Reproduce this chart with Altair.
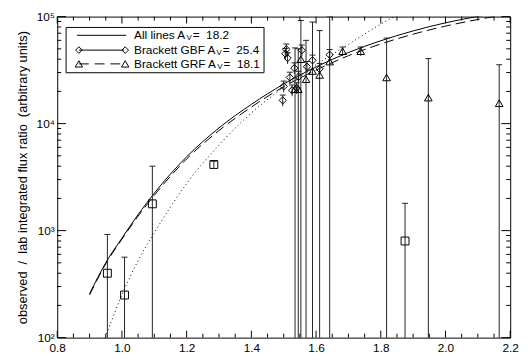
import altair as alt
import pandas as pd

# ---------------- data ----------------
# model curves
all_x = [0.90, 0.95, 1.00, 1.05, 1.10, 1.20, 1.30, 1.40, 1.50, 1.60, 1.70, 1.80, 1.90, 2.00, 2.10, 2.20]
all_y = [257, 501, 851, 1413, 2239, 4898, 9120, 15140, 23440, 33880, 46200, 59500, 73500, 87500, 100500, 113000]
grf_x = [0.90, 0.95, 1.00, 1.05, 1.10, 1.20, 1.30, 1.40, 1.50, 1.60, 1.70, 1.80, 1.90, 2.00, 2.10, 2.20]
grf_y = [251, 490, 832, 1365, 2138, 4677, 8610, 14290, 22130, 31620, 43150, 55500, 68500, 81500, 94000, 106000]
gbf_x = [0.948, 1.00, 1.05, 1.10, 1.20, 1.30, 1.40, 1.50, 1.60, 1.70, 1.80, 1.85, 1.90]
gbf_y = [100, 251, 525, 955, 2754, 6310, 12590, 21880, 35500, 55000, 85000, 103000, 122000]

# squares (other lines)
sq_x = [0.955, 1.008, 1.094, 1.284, 1.875]
sq_y = [400, 250, 1780, 4150, 800]
sq_lo = [10, 10, 10, 3850, 10]
sq_hi = [920, 565, 4000, 4450, 1800]

# triangles (Brackett GRF)
tri_x = [1.535, 1.545, 1.553, 1.569, 1.589, 1.611, 1.642, 1.682, 1.738, 1.818, 1.947, 2.166]
tri_y = [21000, 21000, 40000, 26000, 31000, 28500, 38000, 47500, 47500, 27000, 17500, 15500]
tri_lo = [10, 10, 10, 10, 10, 10, 10, 43000, 43000, 10, 10, 10]
tri_hi = [51000, 50000, 92000, 60000, 89000, 74000, 100000, 52000, 52000, 63000, 40500, 35500]

# diamonds (Brackett GBF)
dia_x = [1.497, 1.500, 1.505, 1.508, 1.512, 1.519, 1.526, 1.533, 1.540, 1.546, 1.556, 1.572, 1.589, 1.611, 1.642]
dia_y = [16500, 22300, 45000, 49500, 41000, 27000, 20500, 33000, 21500, 27500, 48500, 34000, 39000, 32500, 44000]

x_major = [0.8, 1.0, 1.2, 1.4, 1.6, 1.8, 2.0, 2.2]
x_minor = [round(0.8 + 0.05 * i, 2) for i in range(29) if i % 4 != 0]
y_major = [100, 1000, 10000, 100000]
y_minor = [m * d for d in (100, 1000, 10000) for m in range(2, 10)]

NB = "\u00a0"
legend_labels = [("All lines A", "V", "=" + NB + NB + "18.2"),
                 ("Brackett GBF A", "V", "=" + NB + NB + "25.4"),
                 ("Brackett GRF A", "V", "=" + NB + NB + "18.1")]
y_title = "observed" + NB + NB + "/" + NB + NB + "lab integrated flux ratio" + NB + NB + "(arbitrary units)"

# ---------------- layout ----------------
W, H = 460, 326
FONT = "Liberation Sans"
xs = alt.Scale(domain=[0.8, 2.2], nice=False, zero=False)
ys = alt.Scale(type="log", domain=[100, 100000], nice=False)

X_AXIS = alt.Axis(values=x_major, format=".1f", ticks=False, domain=False, grid=False,
                  labelFlush=False, labelOverlap=False,
                  labelFontSize=12, labelPadding=5, title=None, labelColor="black", labelFont=FONT)
Y_AXIS = alt.Axis(values=y_major, ticks=False, domain=False, grid=False,
                  labelFlush=False, labelOverlap=False,
                  labelExpr="datum.value == 100 ? '10²' : datum.value == 1000 ? '10³' : datum.value == 10000 ? '10⁴' : '10⁵'",
                  labelFontSize=12, labelPadding=3, labelColor="black", labelFont=FONT,
                  title=y_title, titleFont=FONT,
                  titleFontSize=13, titleFontWeight="normal", titlePadding=7, titleColor="black")

def X(f="x"):
    return alt.X(f"{f}:Q", scale=xs, axis=X_AXIS)

def Y(f="y"):
    return alt.Y(f"{f}:Q", scale=ys, axis=Y_AXIS)

layers = []

# curves
layers.append(
    alt.Chart(pd.DataFrame({"x": all_x, "y": all_y})).mark_line(
        color="black", strokeWidth=1, clip=True, interpolate="monotone").encode(x=X(), y=Y())
)
layers.append(
    alt.Chart(pd.DataFrame({"x": grf_x, "y": grf_y})).mark_line(
        color="black", strokeWidth=1, clip=True, interpolate="monotone", strokeDash=[10, 5]).encode(x=X(), y=Y())
)
layers.append(
    alt.Chart(pd.DataFrame({"x": gbf_x, "y": gbf_y})).mark_line(
        color="black", strokeWidth=1, clip=True, interpolate="monotone", strokeDash=[1, 3]).encode(x=X(), y=Y())
)

# error bars + caps
def errbars(xv, lo, hi):
    df = pd.DataFrame({"x": xv, "y": lo, "hi": hi})
    bar = alt.Chart(df).mark_rule(color="#222", strokeWidth=1, clip=True).encode(
        x=X(), y=Y(), y2="hi:Q")
    cap = alt.Chart(df).mark_rule(color="#222", strokeWidth=1, clip=True, xOffset=-3, x2Offset=3).encode(
        x=X(), x2="x:Q", y=Y("hi"))
    return [bar, cap]

layers += errbars(sq_x, sq_lo, sq_hi)
layers += errbars(tri_x, tri_lo, tri_hi)
layers += errbars(dia_x, [v * 0.88 for v in dia_y], [v * 1.12 for v in dia_y])

# symbols
layers.append(alt.Chart(pd.DataFrame({"x": sq_x, "y": sq_y})).mark_point(
    shape="square", size=64, filled=False, color="black", strokeWidth=1, opacity=1).encode(x=X(), y=Y()))
layers.append(alt.Chart(pd.DataFrame({"x": tri_x, "y": tri_y})).mark_point(
    shape="triangle-up", size=60, filled=False, color="black", strokeWidth=1, opacity=1).encode(x=X(), y=Y()))
layers.append(alt.Chart(pd.DataFrame({"x": dia_x, "y": dia_y})).mark_point(
    shape="diamond", size=55, filled=False, color="black", strokeWidth=1, opacity=1).encode(x=X(), y=Y()))

# inward ticks
def xticks(vals, length):
    df = pd.DataFrame({"x": vals})
    b = alt.Chart(df).mark_rule(color="black", strokeWidth=1).encode(x=X(), y=alt.value(H), y2=alt.value(H - length))
    t = alt.Chart(df).mark_rule(color="black", strokeWidth=1).encode(x=X(), y=alt.value(0), y2=alt.value(length))
    return [b, t]

def yticks(vals, length):
    df = pd.DataFrame({"y": vals})
    l = alt.Chart(df).mark_rule(color="black", strokeWidth=1).encode(y=Y(), x=alt.value(0), x2=alt.value(length))
    r = alt.Chart(df).mark_rule(color="black", strokeWidth=1).encode(y=Y(), x=alt.value(W), x2=alt.value(W - length))
    return [l, r]

layers += xticks(x_major, 7) + xticks(x_minor, 4)
layers += yticks(y_major, 9) + yticks(y_minor, 4)

# legend (drawn in pixel space)
one = pd.DataFrame({"a": [0]})
layers.append(alt.Chart(one).mark_rect(fill="white", stroke="black", strokeWidth=1).encode(
    x=alt.value(9), x2=alt.value(210), y=alt.value(11), y2=alt.value(57)))

row_y = [19, 34, 48]
layers.append(alt.Chart(one).mark_rule(color="black", strokeWidth=1).encode(
    x=alt.value(20), x2=alt.value(70), y=alt.value(row_y[0])))
layers.append(alt.Chart(one).mark_rule(color="black", strokeWidth=1).encode(
    x=alt.value(22), x2=alt.value(68), y=alt.value(row_y[1])))
layers.append(alt.Chart(one).mark_rule(color="black", strokeWidth=1, strokeDash=[10, 6]).encode(
    x=alt.value(22), x2=alt.value(68), y=alt.value(row_y[2])))
for xv in (22, 69):
    layers.append(alt.Chart(one).mark_point(shape="diamond", size=45, filled=False, color="black",
                                             strokeWidth=1, opacity=1).encode(x=alt.value(xv), y=alt.value(row_y[1])))
    layers.append(alt.Chart(one).mark_point(shape="triangle-up", size=55, filled=False, color="black",
                                             strokeWidth=1, opacity=1).encode(x=alt.value(xv), y=alt.value(row_y[2])))

# Helvetica-like advance widths (per 1000 em)
CW = {"A": 667, "l": 222, "i": 222, "n": 556, "e": 556, "s": 500, " ": 278, "B": 667, "r": 333,
      "a": 556, "c": 500, "k": 500, "t": 278, "G": 778, "F": 611, "R": 722, "V": 667, "=": 584, ".": 278,
      NB: 278}
def tw(s, size):
    return sum(CW.get(ch, 556) for ch in s) * size / 1000.0

x0 = 78
for (p1, sub, p3), yy in zip(legend_labels, row_y):
    w1 = tw(p1, 12)
    ws = tw(sub, 8)
    layers.append(alt.Chart(one).mark_text(text=p1, font=FONT, fontSize=12, align="left", baseline="middle",
                                           color="black").encode(x=alt.value(x0), y=alt.value(yy)))
    layers.append(alt.Chart(one).mark_text(text=sub, font=FONT, fontSize=8, align="left", baseline="middle",
                                           color="black").encode(x=alt.value(x0 + w1 + 0.5), y=alt.value(yy + 3)))
    layers.append(alt.Chart(one).mark_text(text=p3, font=FONT, fontSize=12, align="left", baseline="middle",
                                           color="black").encode(x=alt.value(x0 + w1 + ws + 1.5), y=alt.value(yy)))

chart = alt.layer(*layers).properties(
    width=W, height=H,
    autosize=alt.AutoSizeParams(type="none"),
    padding={"left": 50, "top": 6, "right": 13, "bottom": 22},
).configure(font=FONT).configure_view(stroke="black", strokeWidth=1)

chart.save("out.html", embed_options={"renderer": "svg", "actions": False})
